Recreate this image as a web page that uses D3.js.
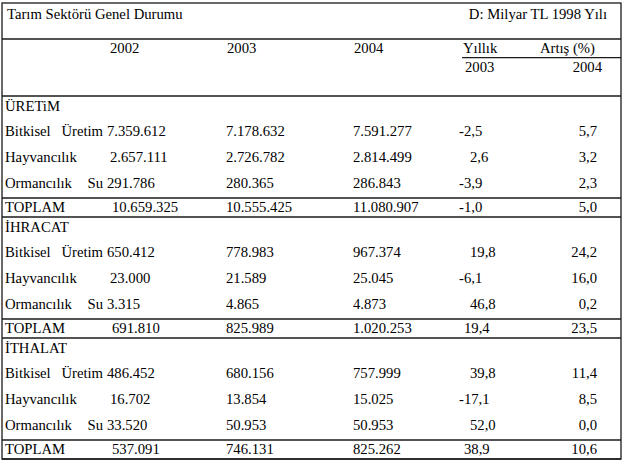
<!DOCTYPE html>
<html><head><meta charset="utf-8">
<script src="https://cdn.jsdelivr.net/npm/d3@7"></script>
<style>
html,body{margin:0;padding:0;background:#fff;}
svg text{font-family:"Liberation Serif","Times New Roman",serif;font-size:14.7px;fill:#000;}
</style></head>
<body><svg id="c" width="623" height="461"></svg>
<script>
const title = "Tarım Sektörü Genel Durumu";
const unitNote = "D: Milyar TL 1998 Yılı";
const years = ["2002", "2003", "2004"];
const growthHeader = ["Yıllık", "Artış (%)"];
const growthYears = ["2003", "2004"];
const sections = ["ÜRETiM", "İHRACAT", "İTHALAT"];
const itemLabelLeft = ["Bitkisel", "Hayvancılık", "Ormancılık"];
const itemLabelRight = ["Üretim", "", "Su"];
const totalLabel = "TOPLAM";
// rows per section: 3 items + total
const values2002 = [[7359612, 2657111, 291786, 10659325], [650412, 23000, 3315, 691810], [486452, 16702, 33520, 537091]];
const values2003 = [[7178632, 2726782, 280365, 10555425], [778983, 21589, 4865, 825989], [680156, 13854, 50953, 746131]];
const values2004 = [[7591277, 2814499, 286843, 11080907], [967374, 25045, 4873, 1020253], [757999, 15025, 50953, 825262]];
const growth2003 = [[-2.5, 2.6, -3.9, -1.0], [19.8, -6.1, 46.8, 19.4], [39.8, -17.1, 52.0, 38.9]];
const growth2004 = [[5.7, 3.2, 2.3, 5.0], [24.2, 16.0, 0.2, 23.5], [11.4, 8.5, 0.0, 10.6]];

const loc = d3.formatLocale({decimal: ",", thousands: ".", grouping: [3], currency: ["", ""], minus: "-"});
const fInt = loc.format(",d");
const fPct = loc.format(".1f");

const svg = d3.select("#c");
const L = 2, R = 621, T = 3, B = 459;
const lineColor = "#1a1a1a";

// column positions
const colX = d3.scaleOrdinal()
  .domain(["label", "v2002", "v2003", "v2004", "g2003", "g2004"])
  .range([5, 107, 226, 353, 459, 597]);
const headerX = d3.scaleOrdinal().domain(years).range([110, 227, 354]);

// vertical layout: section s starts at the line y
const sectionTop = d3.scaleLinear().domain([0, 1]).range([96, 217]);
const rowOffset = d3.scaleOrdinal().domain(["sec", 0, 1, 2, "tot"]).range([15, 40, 66, 92, 116]);

function hline(y, x1, x2) {
  svg.append("line").attr("x1", x1).attr("x2", x2).attr("y1", y).attr("y2", y)
    .attr("stroke", lineColor).attr("stroke-width", 1.3);
}

// outer border
svg.append("rect").attr("x", L).attr("y", T).attr("width", R - L).attr("height", B - T)
  .attr("fill", "none").attr("stroke", lineColor).attr("stroke-width", 1.3);

// title row
svg.append("text").attr("x", 7).attr("y", 18.5).text(title);
svg.append("text").attr("x", 607).attr("y", 18.5).attr("text-anchor", "end").text(unitNote);
hline(39, L, R);

// header row
svg.selectAll("text.yr").data(years).join("text").attr("class", "yr")
  .attr("x", d => headerX(d)).attr("y", 53).text(d => d);
svg.append("text").attr("x", 463).attr("y", 53).text(growthHeader[0]);
svg.append("text").attr("x", 595).attr("y", 53).attr("text-anchor", "end").text(growthHeader[1]);
hline(57.7, 462, R);
svg.append("text").attr("x", 465).attr("y", 72).text(growthYears[0]);
svg.append("text").attr("x", 602).attr("y", 72).attr("text-anchor", "end").text(growthYears[1]);
hline(96, L, R);

sections.forEach((sec, s) => {
  const y0 = sectionTop(s);
  svg.append("text").attr("x", colX("label")).attr("y", y0 + rowOffset("sec")).text(sec);
  for (let r = 0; r < 4; r++) {
    const isTot = r === 3;
    const y = y0 + rowOffset(isTot ? "tot" : r);
    if (isTot) {
      hline(y0 + 102, L, R);
      hline(y0 + 121, L, R);
      svg.append("text").attr("x", colX("label")).attr("y", y).text(totalLabel);
    } else {
      svg.append("text").attr("x", colX("label")).attr("y", y).text(itemLabelLeft[r]);
      if (itemLabelRight[r]) {
        svg.append("text").attr("x", 103).attr("y", y).attr("text-anchor", "end").text(itemLabelRight[r]);
      }
    }
    const split = !isTot && itemLabelRight[r] !== "";
    svg.append("text").attr("x", colX("v2002") + (split ? 0 : (isTot ? 5 : 3))).attr("y", y).text(fInt(values2002[s][r]));
    svg.append("text").attr("x", colX("v2003")).attr("y", y).text(fInt(values2003[s][r]));
    svg.append("text").attr("x", colX("v2004")).attr("y", y).text(fInt(values2004[s][r]));
    const g3 = growth2003[s][r];
    const shift = g3 < 0 ? 0 : (isTot ? 5 : 11);
    svg.append("text").attr("x", colX("g2003") + shift).attr("y", y).text(fPct(g3));
    svg.append("text").attr("x", colX("g2004")).attr("y", y).attr("text-anchor", "end").text(fPct(growth2004[s][r]));
  }
});
</script></body></html>
